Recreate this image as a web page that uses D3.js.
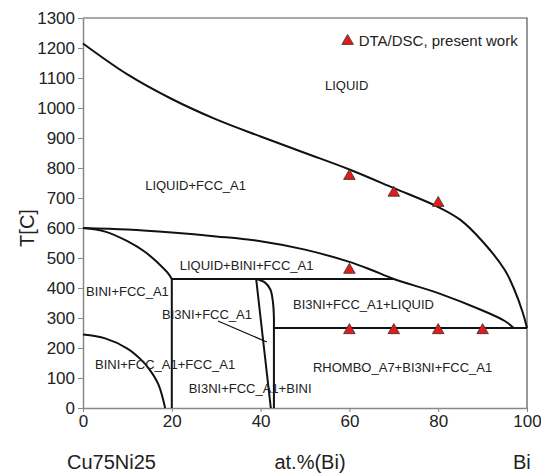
<!DOCTYPE html>
<html lang="en">
<head>
<meta charset="UTF-8">
<title>Cu75Ni25 - Bi section</title>
<script src="https://d3js.org/d3.v7.min.js"></script>
<style>
  body { margin: 0; background: #fff; }
  text { font-family: "Liberation Sans", Arial, sans-serif; fill: #222; }
</style>
</head>
<body>
<div id="chart"></div>
<script>

// phase boundaries, [at.% Bi, T in C]
const liquidus = [[0,1215],[10,1112],[20,1030],[30,962],[40,905],[50,850],[60,795],[70,733],[80,670],[85,627],[90,555],[95,460],[97,400],[99,320],[100,267]];
const liqBiniLine = [[0,600],[10,595],[20,585],[30,572],[40,556],[50,528],[60,487],[65,460],[70,430],[80,383],[90,325],[95,290],[97,267]];
const biniFccLine = [[0,600],[5,588],[10,556],[14,520],[17,482],[19,452],[20,430]];
const lowCurve = [[0,245],[5,232],[10,198],[13,162],[15,128],[17,78],[18.5,0]];
const bi3niCurve = [[39,430],[41,418],[42.2,395],[42.8,350],[43,300],[43,267],[43,0]];
const straightLines = [
  [[20,430],[70,430]],
  [[20,430],[20,0]],
  [[39,430],[42.3,0]],
  [[43,267],[100,267]]
];
const leader = [[30.4,290],[41.4,220]];

// DTA/DSC measurements
const dtaX = [60, 70, 80, 60, 60, 70, 80, 90];
const dtaT = [773, 717, 683, 460, 259, 259, 259, 259];

// region labels: [text, at.% Bi, T]
const regionLabels = [
  ["LIQUID", 54.5, 1070],
  ["LIQUID+FCC_A1", 14, 737],
  ["LIQUID+BINI+FCC_A1", 21.8, 473],
  ["BINI+FCC_A1", 0.7, 385],
  ["BI3NI+FCC_A1", 17.8, 308],
  ["BI3NI+FCC_A1+LIQUID", 47.3, 343],
  ["BINI+FCC_A1+FCC_A1", 2.7, 143],
  ["BI3NI+FCC_A1+BINI", 23.8, 60],
  ["RHOMBO_A7+BI3NI+FCC_A1", 51.8, 130]
];

const xTicks = [0, 20, 40, 60, 80, 100];
const yTicks = d3.range(0, 1301, 100);

const width = 541, height = 476;
const margin = {top: 18, right: 14, bottom: 68, left: 83};

const svg = d3.select("#chart").append("svg")
  .attr("width", width)
  .attr("height", height);

const x = d3.scaleLinear().domain([0, 100]).range([margin.left, width - margin.right]);
const y = d3.scaleLinear().domain([0, 1300]).range([height - margin.bottom, margin.top]);

// frame
svg.append("path")
  .attr("d", `M${x(0)},${y(1300)}H${x(100)}V${y(0)}`)
  .attr("fill", "none")
  .attr("stroke", "#555")
  .attr("stroke-width", 1.2);

// axes
const yAxis = svg.append("g")
  .attr("transform", `translate(${x(0)},0)`)
  .call(d3.axisLeft(y).tickValues(yTicks).tickFormat(d3.format("d")).tickSize(5).tickPadding(3).tickSizeOuter(0));
const xAxis = svg.append("g")
  .attr("transform", `translate(0,${y(0)})`)
  .call(d3.axisBottom(x).tickValues(xTicks).tickFormat(d3.format("d")).tickSize(4).tickPadding(3).tickSizeOuter(0));
[xAxis, yAxis].forEach(g => {
  g.select(".domain").attr("stroke", "#888").attr("stroke-width", 1.5);
  g.selectAll(".tick line").attr("stroke", "#888");
  g.selectAll("text").attr("font-size", 17).attr("font-family", "Liberation Sans, Arial, sans-serif").attr("fill", "#222");
});

// boundaries
const line = d3.line().x(d => x(d[0])).y(d => y(d[1]));
const smooth = d3.line().x(d => x(d[0])).y(d => y(d[1])).curve(d3.curveCatmullRom.alpha(0.5));

[liquidus, liqBiniLine, biniFccLine, lowCurve, bi3niCurve].forEach(pts => {
  svg.append("path").attr("d", smooth(pts))
    .attr("fill", "none").attr("stroke", "#111").attr("stroke-width", 2);
});
straightLines.forEach(pts => {
  svg.append("path").attr("d", line(pts))
    .attr("fill", "none").attr("stroke", "#111").attr("stroke-width", 2);
});
svg.append("path").attr("d", line(leader))
  .attr("fill", "none").attr("stroke", "#111").attr("stroke-width", 1.2);

// labels
svg.selectAll(".region")
  .data(regionLabels)
  .enter().append("text")
  .attr("class", "region")
  .attr("x", d => x(d[1]))
  .attr("y", d => y(d[2]))
  .attr("dominant-baseline", "middle")
  .attr("font-size", 13)
  .text(d => d[0]);

// DTA points
const tri = d3.symbol().type(d3.symbolTriangle).size(58);
svg.selectAll(".dta")
  .data(dtaX.map((v, i) => [v, dtaT[i]]))
  .enter().append("path")
  .attr("class", "dta")
  .attr("transform", d => `translate(${x(d[0])},${y(d[1])})`)
  .attr("d", tri)
  .attr("fill", "#e31b1b")
  .attr("stroke", "#333")
  .attr("stroke-width", 0.8);

// legend
svg.append("path")
  .attr("transform", `translate(${x(59.6)},${y(1223)})`)
  .attr("d", tri)
  .attr("fill", "#e31b1b")
  .attr("stroke", "#333")
  .attr("stroke-width", 0.8);
svg.append("text")
  .attr("x", x(62.1)).attr("y", y(1220))
  .attr("dominant-baseline", "middle")
  .attr("font-size", 15)
  .text("DTA/DSC, present work");

// axis titles
svg.append("text")
  .attr("transform", `translate(34,228) rotate(-90)`)
  .attr("text-anchor", "middle")
  .attr("font-size", 20)
  .text("T[C]");
svg.append("text").attr("x", 67).attr("y", 469).attr("font-size", 20).text("Cu75Ni25");
svg.append("text").attr("x", 310).attr("y", 469).attr("text-anchor", "middle").attr("font-size", 20).text("at.%(Bi)");
svg.append("text").attr("x", 513).attr("y", 469).attr("font-size", 20).text("Bi");

</script>
</body>
</html>
